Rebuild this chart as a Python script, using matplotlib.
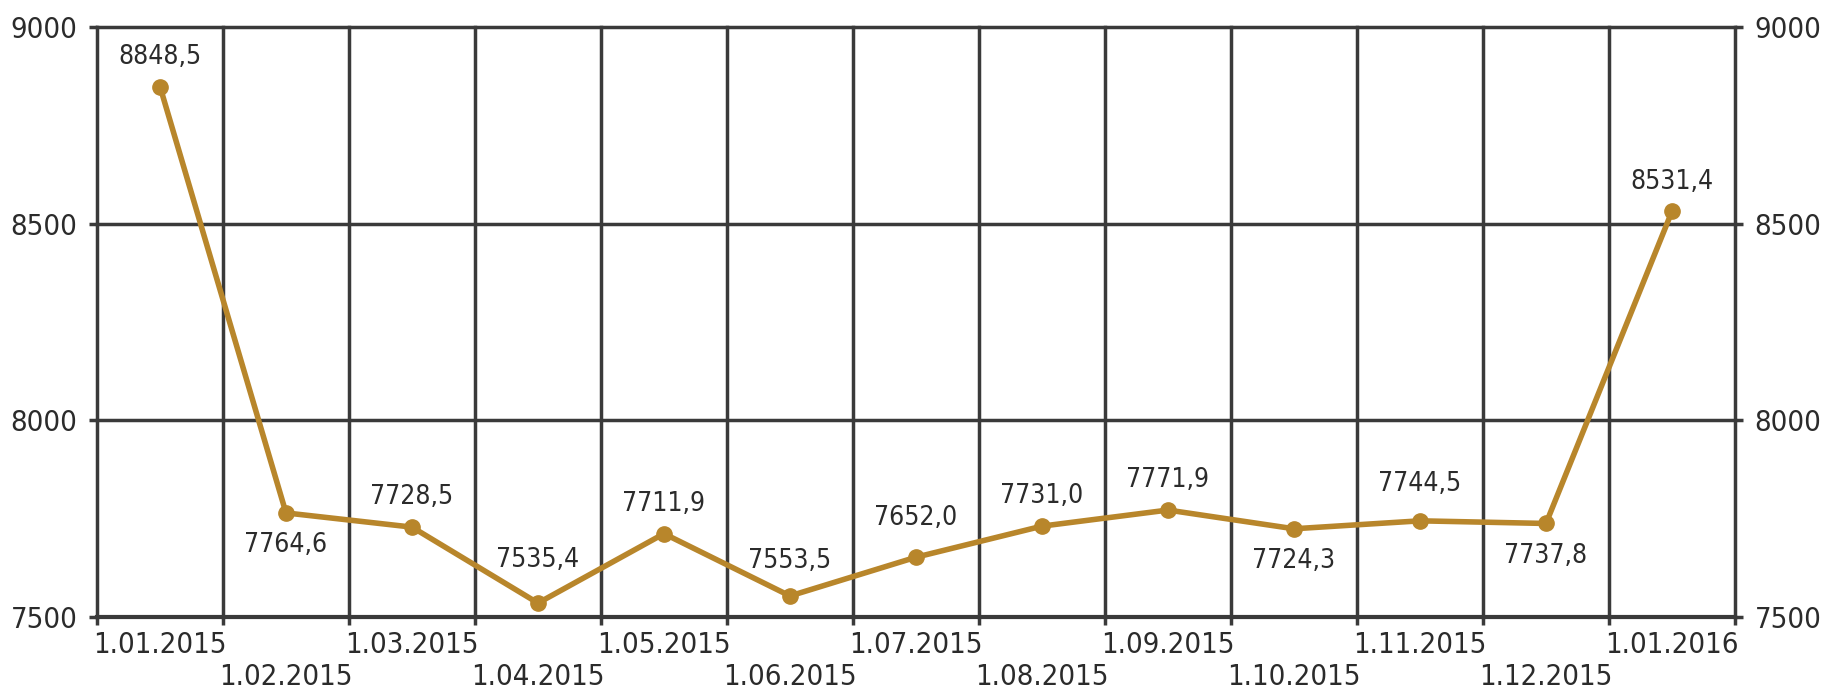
import matplotlib
matplotlib.use('Agg')
import matplotlib.pyplot as plt

dates = ['1.01.2015', '1.02.2015', '1.03.2015', '1.04.2015', '1.05.2015', '1.06.2015',
         '1.07.2015', '1.08.2015', '1.09.2015', '1.10.2015', '1.11.2015', '1.12.2015',
         '1.01.2016']
values = [8848.5, 7764.6, 7728.5, 7535.4, 7711.9, 7553.5, 7652.0, 7731.0, 7771.9,
          7724.3, 7744.5, 7737.8, 8531.4]
# which labels sit under the point rather than above it
below = [False, True, False, False, False, False, False, False, False, True, False, True, False]
# extra label offset (points), the labels are hand placed in the original
label_nudge = [0, 0, 0, 10, 0, 4, 7, 0, 0, 0, 5, 0, 0]

plt.rcParams['font.family'] = ['DejaVu Sans']
plt.rcParams['font.stretch'] = 'condensed'

line_color = '#b8862b'
grid_color = '#3a3a3a'
text_color = '#2b2b2b'

fig = plt.figure(figsize=(18.23, 6.95), dpi=100)
ax = fig.add_axes([97 / 1823, 1 - 617 / 695, (1735 - 97) / 1823, (617 - 27) / 695])

x = list(range(len(values)))
ax.plot(x, values, color=line_color, linewidth=4, marker='o', markersize=11, zorder=3)

for xi, v, b, n in zip(x, values, below, label_nudge):
    label = f"{v:.1f}".replace('.', ',')
    if b:
        ax.annotate(label, (xi, v), xytext=(0, -14 - n), textcoords='offset points',
                    ha='center', va='top', fontsize=19, color=text_color)
    else:
        ax.annotate(label, (xi, v), xytext=(0, 12 + n), textcoords='offset points',
                    ha='center', va='bottom', fontsize=19, color=text_color)

ax.set_xlim(-0.5, len(values) - 0.5)
ax.set_ylim(7500, 9000)
ax.set_yticks([7500, 8000, 8500, 9000])

# vertical grid at category boundaries
for b in range(len(values) + 1):
    ax.axvline(b - 0.5, color=grid_color, linewidth=2.5, zorder=1, clip_on=False)
for yv in [8000, 8500, 9000]:
    ax.axhline(yv, color=grid_color, linewidth=2.5, zorder=1, clip_on=False)

ax.set_xticks([b - 0.5 for b in range(len(values) + 1)], minor=True)
ax.tick_params(axis='x', which='minor', length=6, width=2.5, color=grid_color)
ax.set_xticks(x)
ax.set_xticklabels([d if i % 2 == 0 else '\n' + d for i, d in enumerate(dates)],
                   fontsize=21, color=text_color)
ax.tick_params(axis='x', which='major', length=0, pad=10)
ax.tick_params(axis='y', length=6, width=2.5, color=grid_color, labelsize=21,
               labelcolor=text_color, pad=8)

for s in ax.spines.values():
    s.set_visible(False)
ax.spines['bottom'].set_visible(True)
ax.spines['bottom'].set_color(grid_color)
ax.spines['bottom'].set_linewidth(3)

ax2 = ax.twinx()
ax2.set_ylim(ax.get_ylim())
ax2.set_yticks([7500, 8000, 8500, 9000])
ax2.tick_params(axis='y', length=6, width=2.5, color=grid_color, labelsize=21,
                labelcolor=text_color, pad=8)
for s in ax2.spines.values():
    s.set_visible(False)

fig.savefig('out.png', dpi=100)
